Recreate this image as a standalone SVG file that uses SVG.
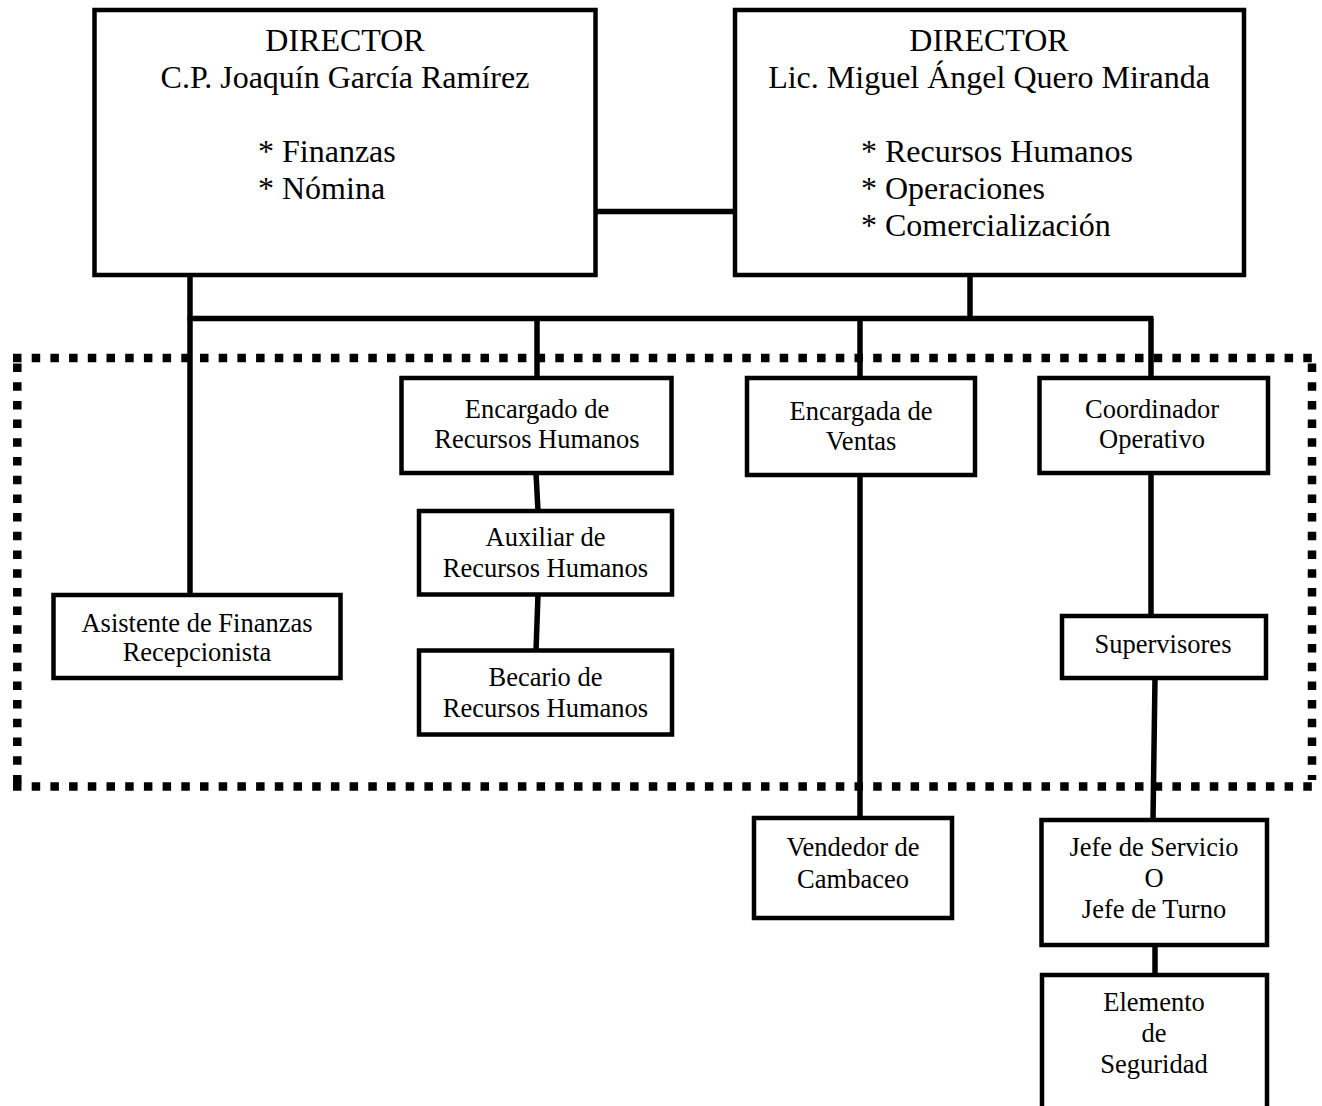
<svg xmlns="http://www.w3.org/2000/svg" width="1322" height="1106" viewBox="0 0 1322 1106">
<style>
.box{fill:#fff;stroke:#000;stroke-width:4.5}
.ln{stroke:#000;stroke-width:5.5;fill:none}
.dot{stroke:#000;stroke-width:8.5;fill:none;stroke-dasharray:8.5 10.2}
.big{font-family:"Liberation Serif","Times New Roman",serif;font-size:32px;fill:#000}
.sm{font-family:"Liberation Serif","Times New Roman",serif;font-size:26.5px;fill:#000;text-anchor:middle}
</style>
<rect width="1322" height="1106" fill="#fff"/>
<g id="frame">
<path class="dot" d="M13 358 H1320"/>
<path class="dot" d="M13 786.5 H1320"/>
<path class="dot" d="M17.3 363.5 V790"/>
<path class="dot" d="M1312 363.5 V780"/>
</g>
<g id="connectors">
<path class="ln" d="M595 211.5 H735"/>
<path class="ln" d="M190 275 V595"/>
<path class="ln" d="M970 275 V318.5"/>
<path class="ln" d="M187.5 318.5 H1153.5"/>
<path class="ln" d="M537 318.5 V378"/>
<path class="ln" d="M860 318.5 V378"/>
<path class="ln" d="M1151 318.5 V378"/>
<path class="ln" d="M536 473 L538 511"/>
<path class="ln" d="M538 594 L536 651"/>
<path class="ln" d="M860 475 V818"/>
<path class="ln" d="M1151 473 V616"/>
<path class="ln" d="M1155 678 L1153 820"/>
<path class="ln" d="M1155 945 V975"/>
</g>
<g id="director1">
<rect class="box" x="94.5" y="10" width="501" height="265"/>
<text class="big" x="345" y="50.5" text-anchor="middle">DIRECTOR</text>
<text class="big" x="345" y="87.5" text-anchor="middle">C.P. Joaquín García Ramírez</text>
<text class="big" x="258" y="161.5">* Finanzas</text>
<text class="big" x="258" y="198.5">* Nómina</text>
</g>
<g id="director2">
<rect class="box" x="735" y="10" width="509" height="265"/>
<text class="big" x="989" y="50.5" text-anchor="middle">DIRECTOR</text>
<text class="big" x="989" y="87.5" text-anchor="middle">Lic. Miguel Ángel Quero Miranda</text>
<text class="big" x="861" y="161.5">* Recursos Humanos</text>
<text class="big" x="861" y="198.5">* Operaciones</text>
<text class="big" x="861" y="235.5">* Comercialización</text>
</g>
<g id="encargado-rh">
<rect class="box" x="401.5" y="378" width="270" height="95"/>
<text class="sm" x="537" y="417.5">Encargado de</text>
<text class="sm" x="537" y="448">Recursos Humanos</text>
</g>
<g id="auxiliar-rh">
<rect class="box" x="419" y="511" width="253" height="83.5"/>
<text class="sm" x="545.5" y="546">Auxiliar de</text>
<text class="sm" x="545.5" y="576.5">Recursos Humanos</text>
</g>
<g id="becario-rh">
<rect class="box" x="419" y="650.5" width="253" height="84"/>
<text class="sm" x="545.5" y="686">Becario de</text>
<text class="sm" x="545.5" y="716.5">Recursos Humanos</text>
</g>
<g id="asistente">
<rect class="box" x="53.5" y="595" width="287" height="83"/>
<text class="sm" x="197" y="631.5">Asistente de Finanzas</text>
<text class="sm" x="197" y="661">Recepcionista</text>
</g>
<g id="ventas">
<rect class="box" x="747" y="378" width="228" height="97"/>
<text class="sm" x="861" y="420">Encargada de</text>
<text class="sm" x="861" y="450">Ventas</text>
</g>
<g id="coordinador">
<rect class="box" x="1039.5" y="378" width="228.5" height="95"/>
<text class="sm" x="1152" y="418">Coordinador</text>
<text class="sm" x="1152" y="448">Operativo</text>
</g>
<g id="supervisores">
<rect class="box" x="1062" y="616" width="204" height="62"/>
<text class="sm" x="1163" y="653">Supervisores</text>
</g>
<g id="vendedor">
<rect class="box" x="754" y="818" width="198" height="100"/>
<text class="sm" x="853" y="856">Vendedor de</text>
<text class="sm" x="853" y="888">Cambaceo</text>
</g>
<g id="jefe">
<rect class="box" x="1041.5" y="820" width="225.5" height="125"/>
<text class="sm" x="1154" y="856">Jefe de Servicio</text>
<text class="sm" x="1154" y="887">O</text>
<text class="sm" x="1154" y="918">Jefe de Turno</text>
</g>
<g id="elemento">
<rect class="box" x="1042" y="975" width="225" height="150"/>
<text class="sm" x="1154" y="1011">Elemento</text>
<text class="sm" x="1154" y="1042">de</text>
<text class="sm" x="1154" y="1073">Seguridad</text>
</g>
</svg>
